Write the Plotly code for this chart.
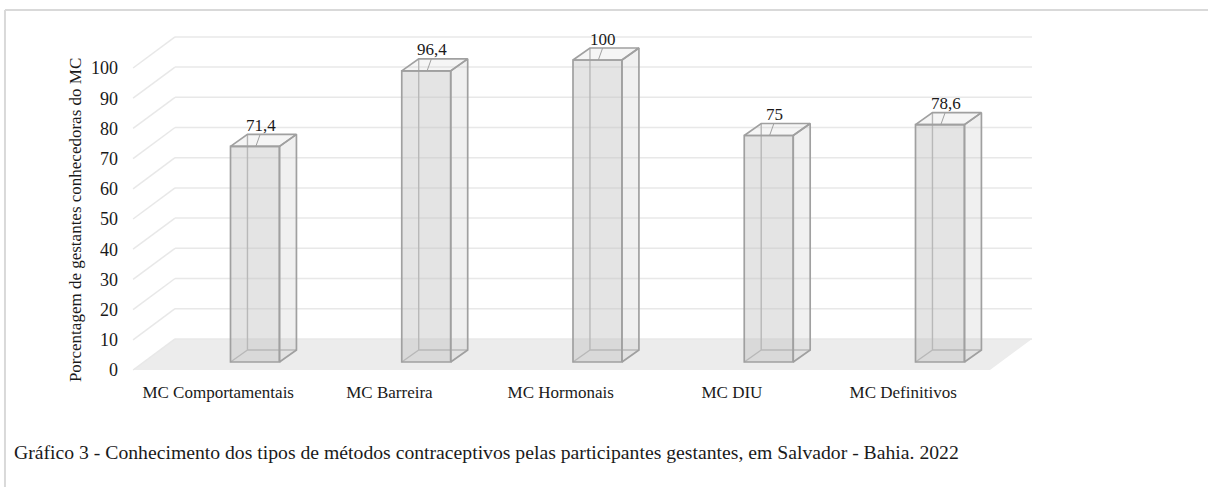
import plotly.graph_objects as go

# ---------------- data ----------------
categories = ["MC Comportamentais", "MC Barreira", "MC Hormonais", "MC DIU", "MC Definitivos"]
values = [71.4, 96.4, 100, 75, 78.6]
value_labels = ["71,4", "96,4", "100", "75", "78,6"]
y_ticks = [0, 10, 20, 30, 40, 50, 60, 70, 80, 90, 100]
y_title = "Porcentagem de gestantes conhecedoras do MC"
caption = ("Gráfico 3 - Conhecimento dos tipos de métodos contraceptivos pelas "
           "participantes gestantes, em Salvador - Bahia. 2022")

# ---------------- pseudo-3D geometry (data units) ----------------
idx = list(range(len(categories)))
BAR_W = 0.286          # bar width (category units)
BAR_Y0 = 2.65          # bar base lifted by its depth in the floor
BDX, BDY = 0.099, 3.97 # bar depth offset
FX0, FX1 = -0.712, 4.292  # floor front edge
WDX, WDY = 0.245, 10.3    # floor / wall depth offset
LABEL_SHIFT = -0.215

FONT = "Liberation Serif"
TXT = "#1a1a1a"
EDGE = "#a0a0a0"
HIDDEN = "#b3b3b3"
GRID = "#e8e8e8"

shapes = []
# floor
shapes.append(dict(type="path", xref="x", yref="y", layer="below",
                   path=f"M {FX0},0 L {FX1},0 L {FX1+WDX},{WDY} L {FX0+WDX},{WDY} Z",
                   fillcolor="#ececec", line=dict(width=0)))
# gridlines: back wall + left wall diagonals
for v in y_ticks:
    shapes.append(dict(type="line", xref="x", yref="y", layer="below",
                       x0=FX0 + WDX, y0=WDY + v, x1=FX1 + WDX, y1=WDY + v,
                       line=dict(color=GRID, width=1.5)))
    shapes.append(dict(type="line", xref="x", yref="y", layer="below",
                       x0=FX0, y0=v, x1=FX0 + WDX, y1=WDY + v,
                       line=dict(color=GRID, width=1.5)))
# hidden (see-through) edges of each box
for i, v in zip(idx, values):
    xl, xr = i - BAR_W / 2, i + BAR_W / 2
    shapes.append(dict(type="path", xref="x", yref="y", layer="below",
                       path=(f"M {xl+BDX},{BAR_Y0+BDY+v} L {xl+BDX},{BAR_Y0+BDY} "
                             f"L {xr+BDX},{BAR_Y0+BDY} M {xl},{BAR_Y0} L {xl+BDX},{BAR_Y0+BDY}"),
                       line=dict(color=HIDDEN, width=1.4)))

fig = go.Figure()

# front faces
fig.add_trace(go.Bar(x=idx, y=values, base=BAR_Y0, width=BAR_W,
                     marker=dict(color="rgba(190,190,190,0.42)",
                                 line=dict(color=EDGE, width=1.7)),
                     hoverinfo="skip", showlegend=False))

# side faces and top faces
side_x, side_y, top_x, top_y, lead_x, lead_y = [], [], [], [], [], []
for i, v in zip(idx, values):
    xl, xr = i - BAR_W / 2, i + BAR_W / 2
    yb, yt = BAR_Y0, BAR_Y0 + v
    side_x += [xr, xr + BDX, xr + BDX, xr, xr, None]
    side_y += [yb, yb + BDY, yt + BDY, yt, yb, None]
    top_x += [xl, xr, xr + BDX, xl + BDX, xl, None]
    top_y += [yt, yt, yt + BDY, yt + BDY, yt, None]
    lead_x += [i + 0.03, i + 0.005, None]
    lead_y += [yt + BDY, yt, None]

fig.add_trace(go.Scatter(x=side_x, y=side_y, mode="lines", fill="toself",
                         fillcolor="rgba(200,200,200,0.28)",
                         line=dict(color=EDGE, width=1.7),
                         hoverinfo="skip", showlegend=False))
fig.add_trace(go.Scatter(x=top_x, y=top_y, mode="lines", fill="toself",
                         fillcolor="rgba(200,200,200,0.18)",
                         line=dict(color=EDGE, width=1.7),
                         hoverinfo="skip", showlegend=False))
fig.add_trace(go.Scatter(x=lead_x, y=lead_y, mode="lines",
                         line=dict(color=EDGE, width=1),
                         hoverinfo="skip", showlegend=False))

annotations = []
for i, v, lab in zip(idx, values, value_labels):
    annotations.append(dict(x=i + 0.035, y=BAR_Y0 + v + BDY, xref="x", yref="y",
                            text=lab, showarrow=False, yanchor="middle", yshift=9,
                            font=dict(family=FONT, size=17, color=TXT)))

# y-axis title
annotations.append(dict(x=-0.0604, y=0.457, xref="paper", yref="paper",
                        text=y_title, textangle=-90, showarrow=False,
                        xanchor="center", yanchor="middle",
                        font=dict(family=FONT, size=17, color=TXT)))
# caption
annotations.append(dict(x=-0.1297, y=-0.2057, xref="paper", yref="paper",
                        text=caption, showarrow=False,
                        xanchor="left", yanchor="middle",
                        font=dict(family=FONT, size=19.7, color=TXT)))

# outer frame (top and left edges visible)
shapes.append(dict(type="line", xref="paper", yref="paper",
                   x0=-0.1374, y0=1.0571, x1=1.19, y1=1.0571,
                   line=dict(color="#d9d9d9", width=2)))
shapes.append(dict(type="line", xref="paper", yref="paper",
                   x0=-0.1374, y0=1.0571, x1=-0.1374, y1=-0.32,
                   line=dict(color="#d9d9d9", width=2)))

fig.update_layout(
    width=1208, height=487,
    margin=dict(l=130, r=168, t=30, b=107),
    paper_bgcolor="white", plot_bgcolor="rgba(0,0,0,0)",
    shapes=shapes, annotations=annotations,
    showlegend=False, hovermode=False,
    font=dict(family=FONT, size=17, color=TXT),
)
fig.update_xaxes(range=[-0.7299, 4.584], tickvals=[i + LABEL_SHIFT for i in idx],
                 ticktext=categories, showgrid=False, zeroline=False, showline=False,
                 ticks="", tickfont=dict(family=FONT, size=17, color=TXT),
                 fixedrange=True)
fig.update_yaxes(range=[-3.311, 112.58], tickvals=y_ticks,
                 ticktext=[str(t) for t in y_ticks],
                 showgrid=False, zeroline=False, showline=False, ticks="",
                 ticklabelstandoff=11,
                 tickfont=dict(family=FONT, size=18, color=TXT),
                 fixedrange=True)

fig.write_html("out.html", config={"displayModeBar": False},
               post_script="document.body.style.margin='0px';")
